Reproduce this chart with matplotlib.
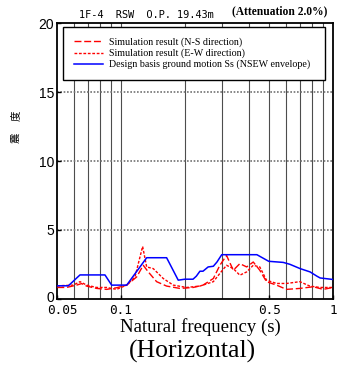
import numpy as np
import matplotlib
matplotlib.use("Agg")
import matplotlib.pyplot as plt
import matplotlib.transforms as mtransforms

# design basis envelope Ss (period s, value)
ss_period = [0.0502, 0.0566, 0.0642, 0.0842, 0.0905, 0.1066, 0.1324, 0.1644,
             0.1865, 0.2005, 0.219, 0.227, 0.236, 0.244, 0.258, 0.273, 0.284,
             0.299, 0.438, 0.498, 0.583, 0.627, 0.70, 0.78, 0.84, 0.87, 1.0]
ss_value = [0.94, 0.94, 1.73, 1.73, 0.99, 0.99, 2.98, 2.98,
            1.35, 1.42, 1.42, 1.64, 2.0, 2.0, 2.31, 2.36, 2.67,
            3.2, 3.2, 2.72, 2.64, 2.5, 2.19, 1.95, 1.64, 1.51, 1.40]

# simulation result N-S
ns_period = [0.0502, 0.0555, 0.0619, 0.0653, 0.069, 0.0769, 0.0857, 0.0955,
             0.1066, 0.1187, 0.1276, 0.1347, 0.1475, 0.1644, 0.1899, 0.2195,
             0.244, 0.273, 0.293, 0.315, 0.339, 0.364, 0.392, 0.421, 0.452,
             0.486, 0.542, 0.604, 0.698, 0.807, 0.90, 1.0]
ns_value = [0.82, 0.82, 0.99, 1.1, 0.92, 0.75, 0.68, 0.8,
            0.99, 1.58, 2.43, 1.95, 1.24, 0.92, 0.75, 0.82,
            0.99, 1.47, 2.43, 3.15, 2.07, 2.55, 2.31, 2.67, 2.07,
            1.24, 0.99, 0.68, 0.75, 0.87, 0.68, 0.82]

# simulation result E-W
ew_period = [0.0502, 0.0597, 0.0642, 0.069, 0.0769, 0.0857, 0.0955, 0.1066,
             0.1166, 0.1267, 0.1324, 0.1422, 0.1585, 0.1767, 0.2042, 0.236,
             0.273, 0.293, 0.315, 0.339, 0.364, 0.392, 0.421, 0.452, 0.486,
             0.542, 0.604, 0.698, 0.778, 0.867, 1.0]
ew_value = [0.94, 0.99, 1.24, 0.99, 0.82, 0.82, 0.68, 0.99,
            1.58, 3.8, 2.31, 2.19, 1.47, 0.99, 0.82, 0.92,
            1.24, 1.84, 2.43, 2.19, 1.71, 1.95, 2.43, 2.31, 1.35,
            1.11, 1.11, 1.24, 0.92, 0.82, 0.82]

xticks = [0.05, 0.1, 0.5, 1]
xtick_labels = ["0.05", "0.1", "0.5", "1"]
xgrid = [0.06, 0.07, 0.08, 0.09, 0.1, 0.2, 0.3, 0.4, 0.5, 0.6, 0.7, 0.8, 0.9]
yticks = [0, 5, 10, 15, 20]

serif = "Liberation Serif"
mono = "DejaVu Sans Mono"


def shift(label, fig, dx, dy):
    # nudge a tick label by a few pixels
    label.set_transform(label.get_transform() +
                        mtransforms.ScaledTranslation(dx / 100, dy / 100, fig.dpi_scale_trans))


def main():
    fig = plt.figure(figsize=(3.37, 3.67), dpi=100)
    ax = fig.add_axes([0.169, 0.186, 0.819, 0.750])

    for g in xgrid:
        ax.axvline(g, color="0.3", lw=0.8, zorder=1)
    for g in yticks[1:-1]:
        ax.axhline(g, color="0.45", lw=1.2, ls=(0, (1, 1)), zorder=1)

    ax.plot(ns_period, ns_value, color="#ff0000", lw=1.0, dashes=(5, 2),
            label="Simulation result (N-S direction)", zorder=3)
    ax.plot(ew_period, ew_value, color="#ff0000", lw=1.0, dashes=(2, 1.2),
            label="Simulation result (E-W direction)", zorder=3)
    ax.plot(ss_period, ss_value, color="#0000ff", lw=1.1,
            label="Design basis ground motion Ss (NSEW envelope)", zorder=4)

    ax.set_xscale("log")
    ax.set_xlim(0.05, 1)
    ax.set_ylim(0, 20)
    ax.set_xticks(xticks)
    ax.set_xticklabels(xtick_labels, fontfamily=mono, fontsize=9.2)
    ax.xaxis.set_minor_locator(matplotlib.ticker.NullLocator())
    ax.set_yticks(yticks)
    ax.set_yticklabels([str(v) for v in yticks], fontfamily="Liberation Sans",
                       fontsize=10)
    ax.tick_params(direction="in", length=3, width=1, pad=2)
    ax.tick_params(axis="x", pad=4)
    # first x label sits a little right of its tick, y "0" a little up
    shift(ax.get_xticklabels()[0], fig, 5, 0)
    shift(ax.get_yticklabels()[0], fig, 0, 2.5)
    for s in ax.spines.values():
        s.set_linewidth(1.3)

    fig.text(0.595, 0.095, "Natural frequency (s)", fontfamily=serif,
             fontsize=13.5, ha="center", va="baseline")
    fig.text(0.57, 0.026, "(Horizontal)", fontfamily=serif, fontsize=18.5,
             ha="center", va="baseline")

    # vertical label, two characters spaced apart
    ax.text(-0.149, 0.584, "震", fontfamily="Noto Sans CJK JP", fontsize=7.5,
            rotation=90, ha="center", va="center", transform=ax.transAxes)
    ax.text(-0.149, 0.663, "度", fontfamily="Noto Sans CJK JP", fontsize=7.5,
            rotation=90, ha="center", va="center", transform=ax.transAxes)

    fig.text(0.235, 0.952, "1F-4  RSW  O.P. 19.43m", fontfamily=mono,
             fontsize=7.4, va="baseline")
    fig.text(0.688, 0.96, "(Attenuation 2.0%)", fontfamily=serif,
             fontweight="bold", fontsize=8.3, va="baseline")

    leg = ax.legend(loc="upper left", bbox_to_anchor=(0.022, 0.798, 0.949, 0.189),
                    mode="expand", borderaxespad=0, fancybox=False,
                    framealpha=1, edgecolor="black", borderpad=1.05,
                    handlelength=2.9, handletextpad=0.6, labelspacing=0.15,
                    prop={"family": serif, "size": 7.2})
    leg.get_frame().set_linewidth(1.0)
    leg.set_zorder(5)

    fig.savefig("out.png", dpi=100)


if __name__ == "__main__":
    main()
